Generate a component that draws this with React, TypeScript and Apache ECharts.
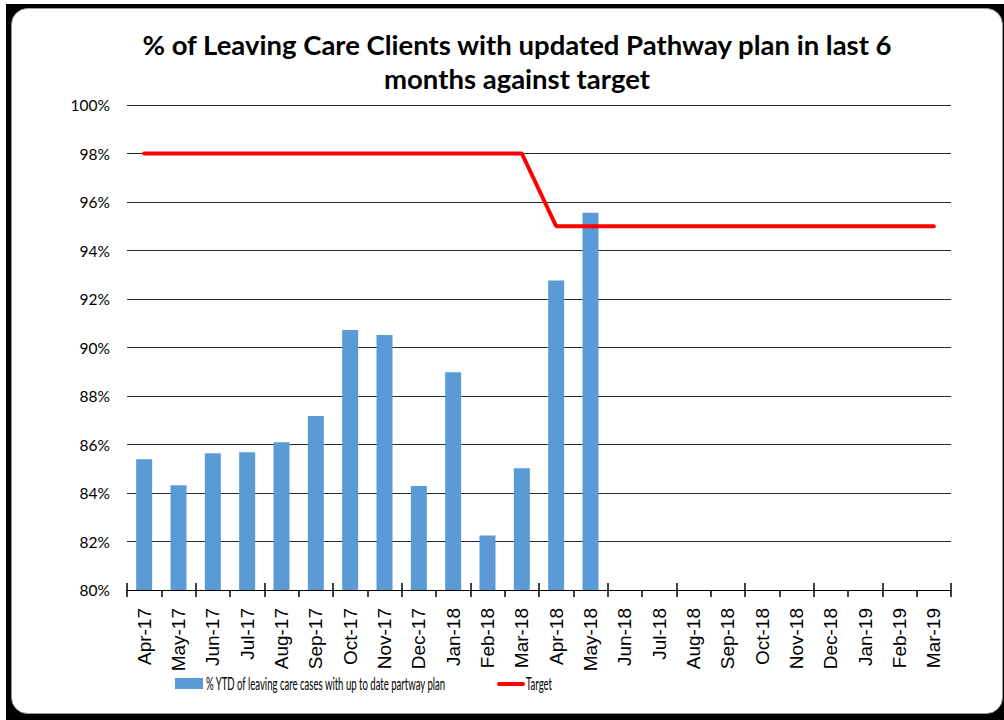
import React, { useEffect, useRef } from "react";
import * as echarts from "echarts";

const categories = [
  "Apr-17", "May-17", "Jun-17", "Jul-17", "Aug-17", "Sep-17", "Oct-17", "Nov-17",
  "Dec-17", "Jan-18", "Feb-18", "Mar-18", "Apr-18", "May-18", "Jun-18", "Jul-18",
  "Aug-18", "Sep-18", "Oct-18", "Nov-18", "Dec-18", "Jan-19", "Feb-19", "Mar-19",
];

const ytdValues: (number | null)[] = [
  85.39, 84.32, 85.64, 85.68, 86.09, 87.18, 90.72, 90.52, 84.29, 88.98, 82.25, 85.02,
  92.76, 95.56, null, null, null, null, null, null, null, null, null, null,
];

const targetValues = [
  98, 98, 98, 98, 98, 98, 98, 98, 98, 98, 98, 98,
  95, 95, 95, 95, 95, 95, 95, 95, 95, 95, 95, 95,
];

const titleLines = [
  "% of Leaving Care Clients with updated Pathway plan in last 6",
  "months against target",
];

const barName = "% YTD of leaving care cases with up to date partway plan";
const lineName = "Target";

const BAR_COLOR = "#5b9bd5";
const LINE_COLOR = "#ff0000";

export default function App() {
  const ref = useRef<HTMLDivElement>(null);

  useEffect(() => {
    if (!ref.current) return;
    const chart = echarts.init(ref.current, undefined, { renderer: "svg" });
    const legendFont = "16.5px Lato";
    const legendScale = 0.58;
    chart.setOption({
      animation: false,
      backgroundColor: "#ffffff",
      graphic: [
        {
          type: "rect",
          z: -10,
          silent: true,
          shape: { x: 6, y: 4, width: 1004, height: 720 },
          style: { fill: "#000000" },
        },
        {
          type: "rect",
          z: -9,
          silent: true,
          shape: { x: 11.5, y: 8.5, width: 991, height: 705, r: 16 },
          style: { fill: "#ffffff", stroke: "#9a9a9a", lineWidth: 1 },
        },
        // legend
        {
          type: "rect",
          silent: true,
          shape: { x: 175, y: 678, width: 28, height: 11 },
          style: { fill: BAR_COLOR },
        },
        {
          type: "text",
          silent: true,
          x: 206,
          y: 684,
          scaleX: legendScale,
          style: {
            text: barName,
            font: legendFont,
            fill: "#000000",
            textVerticalAlign: "middle",
            textAlign: "left",
          },
        },
        {
          type: "line",
          silent: true,
          shape: { x1: 499, y1: 684, x2: 523, y2: 684 },
          style: { stroke: LINE_COLOR, lineWidth: 4, lineCap: "round" },
        },
        {
          type: "text",
          silent: true,
          x: 526,
          y: 684,
          scaleX: legendScale,
          style: {
            text: lineName,
            font: legendFont,
            fill: "#000000",
            textVerticalAlign: "middle",
            textAlign: "left",
          },
        },
      ],
      title: {
        text: titleLines.join("\n"),
        left: 512,
        top: 22,
        textAlign: "center",
        textStyle: {
          fontFamily: "Lato",
          fontWeight: "bold",
          fontSize: 27.5,
          lineHeight: 34,
          color: "#000000",
        },
      },
      grid: { left: 127, right: 53, top: 105, bottom: 130, containLabel: false },
      xAxis: [
        {
          type: "category",
          data: categories,
          position: "bottom",
          axisLine: { show: true, lineStyle: { color: "#000000", width: 1 } },
          axisTick: { show: true, length: 7, lineStyle: { color: "#000000", width: 1.5 } },
          axisLabel: {
            rotate: 90,
            interval: 0,
            margin: 18,
            fontFamily: "Liberation Sans",
            fontSize: 19,
            color: "#000000",
          },
          splitLine: { show: false },
        },
        {
          type: "category",
          data: categories,
          position: "bottom",
          axisLine: { show: false },
          axisTick: { show: true, inside: true, length: 7, lineStyle: { color: "#000000", width: 1.5 } },
          axisLabel: { show: false },
          splitLine: { show: false },
        },
      ],
      yAxis: {
        type: "value",
        min: 80,
        max: 100,
        interval: 2,
        axisLine: { show: false },
        axisTick: { show: false },
        axisLabel: {
          formatter: "{value}%",
          margin: 17,
          fontFamily: "Lato",
          fontSize: 15.5,
          color: "#000000",
        },
        splitLine: { show: true, lineStyle: { color: "#2a2a2a", width: 1 } },
      },
      series: [
        {
          name: barName,
          type: "bar",
          data: ytdValues,
          barWidth: 16,
          itemStyle: { color: BAR_COLOR },
        },
        {
          name: lineName,
          type: "line",
          data: targetValues,
          symbol: "none",
          lineStyle: { color: LINE_COLOR, width: 4, cap: "round" },
          itemStyle: { color: LINE_COLOR },
          z: 5,
        },
      ],
    });
    return () => chart.dispose();
  }, []);

  return (
    <div
      ref={ref}
      style={{ position: "absolute", left: 0, top: 0, width: 1004, height: 720 }}
    />
  );
}
